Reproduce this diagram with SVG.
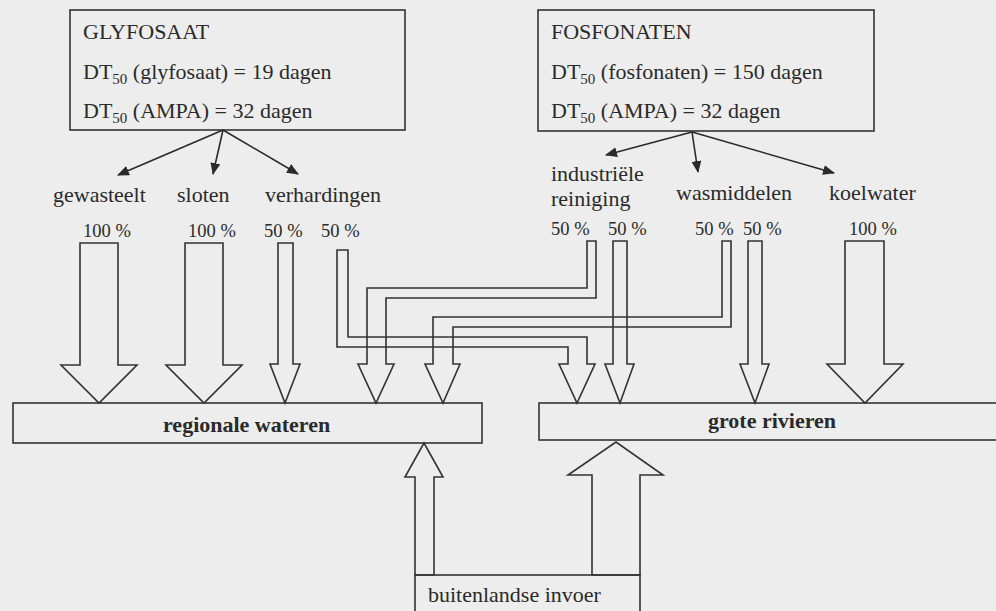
<svg xmlns="http://www.w3.org/2000/svg" width="996" height="611" viewBox="0 0 996 611">
<defs>
<marker id="ah" viewBox="0 0 12 10" refX="11" refY="5" markerWidth="12" markerHeight="10" markerUnits="userSpaceOnUse" orient="auto">
<path d="M0,0 L12,5 L0,10 z" fill="#2a2a2a"/>
</marker>
<style>
.bg{fill:#ededed}
.box{fill:none;stroke:#333;stroke-width:1.6}
.t{font-family:"Liberation Serif","Times New Roman",serif;font-size:22px;fill:#2a2a2a}
.b{font-weight:bold}
.p{font-family:"Liberation Serif","Times New Roman",serif;font-size:18.5px;fill:#2a2a2a}
.sub{font-size:15px}
.thin{fill:none;stroke:#2a2a2a;stroke-width:1.6;marker-end:url(#ah)}
.blk{fill:none;stroke:#333;stroke-width:1.6;stroke-linejoin:miter}
</style>
</defs>
<rect class="bg" x="0" y="0" width="996" height="611"/>

<g id="glyfosaat">
<rect class="box" x="70" y="10" width="335" height="120"/>
<text class="t" x="83" y="39">GLYFOSAAT</text>
<text class="t" x="83" y="79">DT<tspan class="sub" dy="5">50</tspan><tspan dy="-5"> (glyfosaat) = 19 dagen</tspan></text>
<text class="t" x="83" y="118">DT<tspan class="sub" dy="5">50</tspan><tspan dy="-5"> (AMPA) = 32 dagen</tspan></text>
</g>

<g id="fosfonaten">
<rect class="box" x="538" y="10" width="336" height="121"/>
<text class="t" x="551" y="39">FOSFONATEN</text>
<text class="t" x="551" y="79">DT<tspan class="sub" dy="5">50</tspan><tspan dy="-5"> (fosfonaten) = 150 dagen</tspan></text>
<text class="t" x="551" y="118">DT<tspan class="sub" dy="5">50</tspan><tspan dy="-5"> (AMPA) = 32 dagen</tspan></text>
</g>

<g id="gewasteelt"><text class="t" x="53" y="202">gewasteelt</text><text class="p" x="83" y="237">100 %</text></g>
<g id="sloten"><text class="t" x="177" y="202">sloten</text><text class="p" x="188" y="237">100 %</text></g>
<g id="verhardingen"><text class="t" x="265" y="202">verhardingen</text><text class="p" x="264" y="237">50 %</text><text class="p" x="321" y="237">50 %</text></g>
<g id="industriele-reiniging"><text class="t" x="551" y="181">industriële</text><text class="t" x="551" y="206">reiniging</text><text class="p" x="551" y="235">50 %</text><text class="p" x="608" y="235">50 %</text></g>
<g id="wasmiddelen"><text class="t" x="676" y="200">wasmiddelen</text><text class="p" x="695" y="235">50 %</text><text class="p" x="743" y="235">50 %</text></g>
<g id="koelwater"><text class="t" x="829" y="200">koelwater</text><text class="p" x="849" y="235">100 %</text></g>

<g id="regionale-wateren">
<rect class="box" x="13" y="403" width="469" height="40"/>
<text class="t b" x="163" y="432">regionale wateren</text>
</g>

<g id="grote-rivieren">
<rect class="box" x="539" y="403" width="470" height="37"/>
<text class="t b" x="708" y="428">grote rivieren</text>
</g>

<g id="buitenlandse-invoer">
<rect class="box" x="415" y="575" width="225" height="45"/>
<text class="t" x="428" y="602">buitenlandse invoer</text>
</g>

<g id="connectors">
<line class="thin" x1="223" y1="130" x2="118" y2="175"/>
<line class="thin" x1="223" y1="130" x2="213" y2="174"/>
<line class="thin" x1="223" y1="130" x2="298" y2="174"/>
<line class="thin" x1="692" y1="132" x2="606" y2="155"/>
<line class="thin" x1="692" y1="132" x2="698" y2="172"/>
<line class="thin" x1="692" y1="132" x2="834" y2="173"/>

<polygon class="blk" points="80,243 118,243 118,365 137,365 99,403 61,365 80,365"/>
<polygon class="blk" points="185,243 223,243 223,365 242,365 204,403 166,365 185,365"/>
<polygon class="blk" points="278,243 293,243 293,364 300,364 285,403 270,364 278,364"/>
<polygon class="blk" points="337,250 348,250 348,337 587,337 587,364 595,364 577,403 559,364 568,364 568,347 337,347"/>
<polygon class="blk" points="587,241 596,241 596,298 386,298 386,364 394,364 376,403 358,364 367,364 367,288 587,288"/>
<polygon class="blk" points="613,241 627,241 627,364 634,364 620,403 605,364 613,364"/>
<polygon class="blk" points="722,241 731,241 731,327 453,327 453,364 460,364 443,403 425,364 433,364 433,317 722,317"/>
<polygon class="blk" points="748,241 762,241 762,364 769,364 755,403 740,364 748,364"/>
<polygon class="blk" points="845,241 884,241 884,364 903,364 865,403 827,364 845,364"/>

<polygon class="blk" points="415,575 415,477 405,477 424,443 443,477 434,477 434,575"/>
<polygon class="blk" points="592,575 592,475 568,475 616,442 663,475 640,475 640,575"/>
</g>
</svg>
